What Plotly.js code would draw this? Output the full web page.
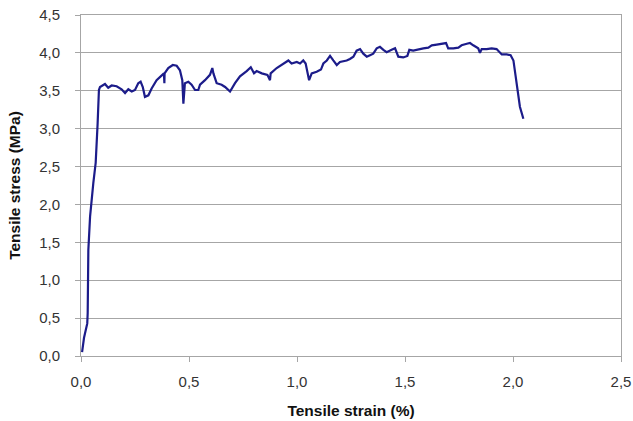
<!DOCTYPE html>
<html>
<head>
<meta charset="utf-8">
<script src="https://cdn.plot.ly/plotly-3.0.1.min.js"></script>
<style>html,body{margin:0;padding:0;background:#fff;}#chart{width:633px;height:421px;}</style>
</head>
<body>
<div id="chart"></div>
<script>
const strain = [0.005,0.014,0.029,0.031,0.034,0.042,0.057,0.068,0.077,0.080,0.083,0.088,0.111,0.126,0.142,0.165,0.188,0.204,0.219,0.235,0.250,0.265,0.276,0.286,0.296,0.312,0.327,0.350,0.374,0.384,0.386,0.387,0.404,0.425,0.443,0.458,0.469,0.474,0.481,0.497,0.512,0.528,0.543,0.551,0.574,0.597,0.608,0.613,0.628,0.651,0.667,0.690,0.713,0.736,0.767,0.786,0.801,0.813,0.837,0.863,0.875,0.878,0.906,0.937,0.960,0.975,0.999,1.014,1.029,1.040,1.056,1.068,1.091,1.111,1.122,1.138,1.153,1.168,1.184,1.199,1.230,1.245,1.261,1.276,1.292,1.307,1.323,1.338,1.353,1.369,1.384,1.400,1.415,1.438,1.454,1.469,1.492,1.511,1.520,1.538,1.562,1.585,1.608,1.624,1.647,1.670,1.690,1.700,1.724,1.747,1.762,1.786,1.801,1.816,1.839,1.847,1.855,1.878,1.901,1.924,1.937,1.948,1.971,1.989,2.002,2.009,2.020,2.032,2.048];
const stress = [0.05,0.24,0.43,0.57,1.40,1.84,2.28,2.55,3.07,3.38,3.51,3.55,3.59,3.54,3.57,3.56,3.52,3.47,3.52,3.49,3.51,3.60,3.62,3.55,3.42,3.44,3.53,3.64,3.71,3.73,3.60,3.73,3.80,3.84,3.83,3.77,3.64,3.33,3.60,3.62,3.58,3.51,3.51,3.58,3.64,3.71,3.80,3.73,3.60,3.58,3.55,3.49,3.60,3.69,3.76,3.81,3.73,3.76,3.73,3.71,3.64,3.73,3.80,3.86,3.90,3.86,3.88,3.86,3.90,3.86,3.64,3.73,3.75,3.78,3.86,3.90,3.96,3.90,3.84,3.88,3.90,3.92,3.95,4.03,4.05,3.99,3.95,3.97,3.99,4.06,4.08,4.04,4.01,4.04,4.06,3.95,3.94,3.96,4.04,4.03,4.05,4.06,4.07,4.10,4.11,4.12,4.13,4.06,4.06,4.07,4.10,4.12,4.13,4.10,4.06,4.00,4.05,4.05,4.06,4.05,4.01,3.98,3.98,3.97,3.90,3.75,3.51,3.29,3.13];
const xTitle = "Tensile strain (%)";
const yTitle = "Tensile stress (MPa)";

const fam = "Liberation Sans, Arial, sans-serif";
const fnt = {family: fam, size: 15, color: "#333"};
const tfnt = {family: fam, size: 15.5, color: "#111", weight: "bold"};
const axisCommon = {
  showgrid: true, gridcolor: "#a6a6a6", gridwidth: 1,
  showline: true, linecolor: "#a6a6a6", linewidth: 1, mirror: true,
  ticks: "outside", ticklen: 5, tickcolor: "#a6a6a6",
  tickformat: ".1f", tickfont: fnt, zeroline: false
};
Plotly.newPlot("chart", [{
  x: strain, y: stress, type: "scatter", mode: "lines",
  line: {color: "#1c1c8a", width: 2.2}
}], {
  width: 633, height: 421,
  margin: {l: 81, r: 12, t: 15, b: 65},
  separators: ",.",
  paper_bgcolor: "#fff", plot_bgcolor: "#fff",
  showlegend: false,
  xaxis: Object.assign({}, axisCommon, {
    range: [0, 2.5], dtick: 0.5, showgrid: false, ticklabelstandoff: 7,
    title: {text: xTitle, font: tfnt, standoff: 16}
  }),
  yaxis: Object.assign({}, axisCommon, {
    range: [0, 4.5], dtick: 0.5, ticklabelstandoff: 12,
    title: {text: yTitle, font: tfnt, standoff: 14}
  })
}, {displayModeBar: false, staticPlot: true});
</script>
</body>
</html>
